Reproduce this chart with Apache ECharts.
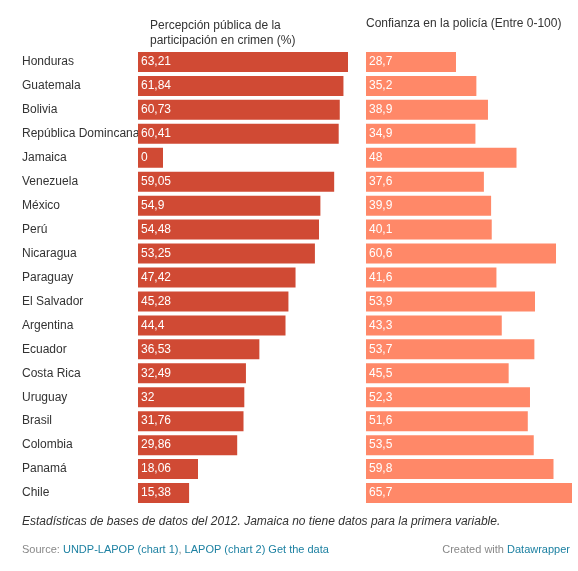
<!DOCTYPE html>
<html><head><meta charset="utf-8">
<script src="https://cdn.jsdelivr.net/npm/echarts@6/dist/echarts.min.js"></script>
<style>html,body{margin:0;background:#fff}#c{width:578px;height:571px}</style>
</head><body><div id="c"></div>
<script>
var countries = ['Honduras','Guatemala','Bolivia','República Domincana','Jamaica','Venezuela','México','Perú','Nicaragua','Paraguay','El Salvador','Argentina','Ecuador','Costa Rica','Uruguay','Brasil','Colombia','Panamá','Chile'];
var crimen = [63.21,61.84,60.73,60.41,0,59.05,54.9,54.48,53.25,47.42,45.28,44.4,36.53,32.49,32,31.76,29.86,18.06,15.38];
var confianza = [28.7,35.2,38.9,34.9,48,37.6,39.9,40.1,60.6,41.6,53.9,43.3,53.7,45.5,52.3,51.6,53.5,59.8,65.7];

var font = 'Liberation Sans';
function fmt(p){ return String(p.value).replace('.', ','); }
var chart = echarts.init(document.getElementById('c'));
chart.setOption({
  animation: false,
  textStyle: {fontFamily: font},
  grid: [
    {left: 138, top: 50, width: 210, height: 455},
    {left: 366, top: 50, width: 206, height: 455}
  ],
  xAxis: [
    {gridIndex: 0, type: 'value', min: 0, max: 63.21, show: false},
    {gridIndex: 1, type: 'value', min: 0, max: 65.7, show: false}
  ],
  yAxis: [
    {gridIndex: 0, type: 'category', data: countries, inverse: true,
     axisLine: {show: false}, axisTick: {show: false},
     axisLabel: {align: 'left', margin: 116, color: '#333', fontSize: 12, fontFamily: font}},
    {gridIndex: 1, type: 'category', data: countries, inverse: true, show: false}
  ],
  series: [
    {type: 'bar', xAxisIndex: 0, yAxisIndex: 0, data: crimen, barWidth: 20, barMinHeight: 25,
     itemStyle: {color: '#d04a34'},
     label: {show: true, position: 'insideLeft', offset: [-2, 0], color: '#fff', fontSize: 12, fontFamily: font, formatter: fmt}},
    {type: 'bar', xAxisIndex: 1, yAxisIndex: 1, data: confianza, barWidth: 20,
     itemStyle: {color: '#ff8868'},
     label: {show: true, position: 'insideLeft', offset: [-2, 0], color: '#fff', fontSize: 12, fontFamily: font, formatter: fmt}}
  ],
  graphic: [
    {type: 'text', left: 150, top: 18, style: {text: 'Percepción pública de la\nparticipación en crimen (%)', fill: '#333', font: '12px ' + font, lineHeight: 15}},
    {type: 'text', left: 366, top: 18, style: {text: 'Confianza en la policía (Entre 0-100)', fill: '#333', font: '12px ' + font}},
    {type: 'text', left: 22, top: 516, style: {text: 'Estadísticas de bases de datos del 2012. Jamaica no tiene datos para la primera variable.', fill: '#333', font: 'italic 12px ' + font}},
    {type: 'text', left: 22, top: 544, style: {
      text: '{g|Source: }{a|UNDP-LAPOP (chart 1)}{g|, }{a|LAPOP (chart 2)}{g| }{a|Get the data}',
      rich: {g: {fill: '#888', font: '11px ' + font}, a: {fill: '#1d81a2', font: '11px ' + font, textDecoration: 'underline'}}}},
    {type: 'text', right: 8, top: 544, style: {
      text: '{g|Created with }{a|Datawrapper}',
      rich: {g: {fill: '#888', font: '11px ' + font}, a: {fill: '#1d81a2', font: '11px ' + font}}}}
  ]
});
</script></body></html>
